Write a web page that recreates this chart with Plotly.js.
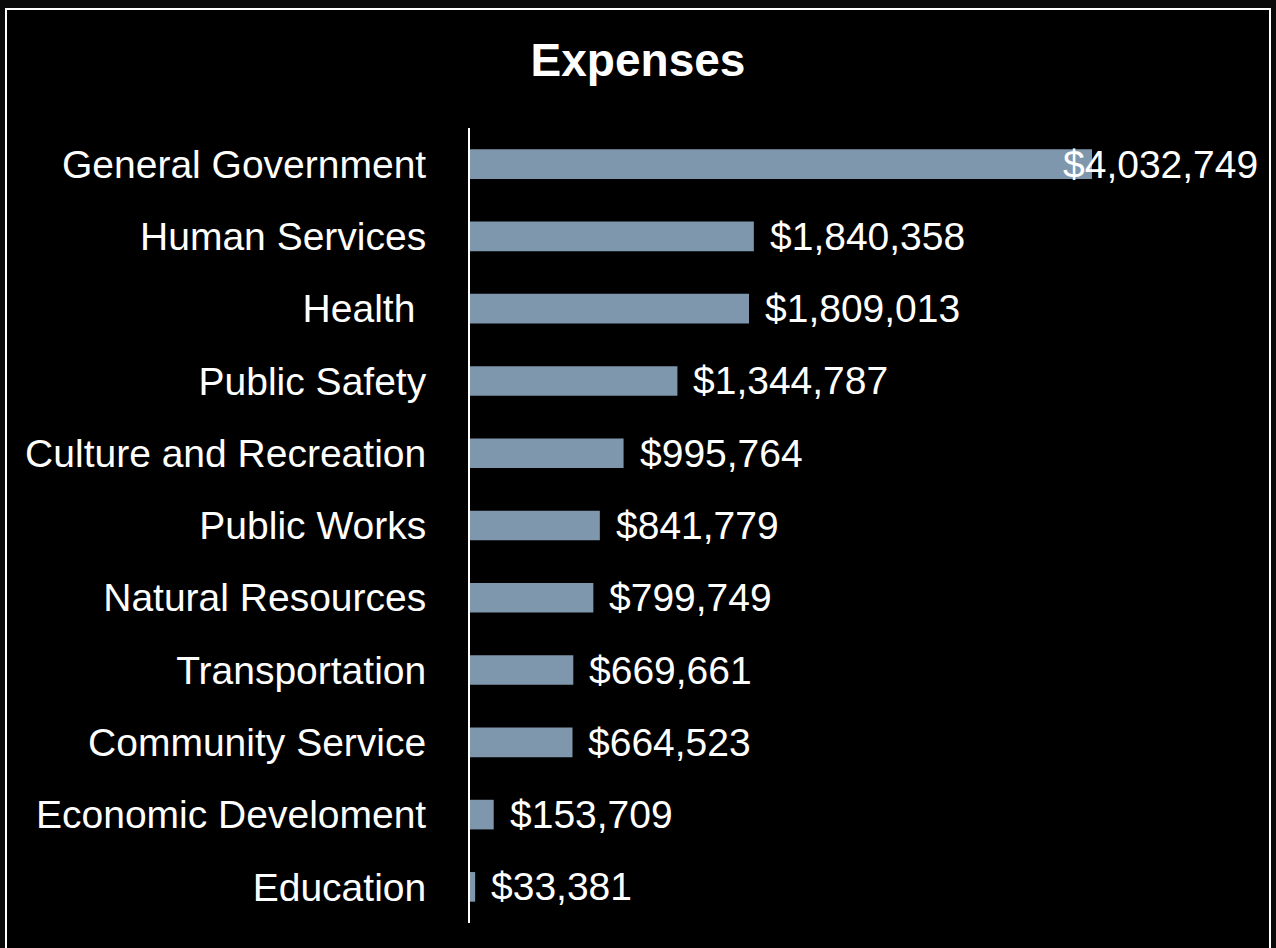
<!DOCTYPE html>
<html>
<head>
<meta charset="utf-8">
<script src="https://cdn.plot.ly/plotly-3.0.1.min.js"></script>
<style>
  html, body { margin: 0; padding: 0; background: #0a0a0a; overflow: hidden; }
  #chart { position: absolute; left: 0; top: 0; width: 1276px; height: 948px; }
  #frame { position: absolute; left: 5px; top: 8px; width: 1262px; height: 960px;
           border: 2px solid #ffffff; outline: 12px solid #0a0a0a; pointer-events: none; }
</style>
</head>
<body>
<div id="chart"></div>
<div id="frame"></div>
<script>
const categories = [
  "General Government", "Human Services", "Health\u00a0", "Public Safety",
  "Culture and Recreation", "Public Works", "Natural Resources", "Transportation",
  "Community Service", "Economic Develoment", "Education"
];
const expenses = [4032749, 1840358, 1809013, 1344787, 995764, 841779, 799749, 669661, 664523, 153709, 33381];
const valueLabels = ["$4,032,749", "$1,840,358", "$1,809,013", "$1,344,787", "$995,764", "$841,779",
                     "$799,749", "$669,661", "$664,523", "$153,709", "$33,381"];

const xMax = 5122000;
const font = "Liberation Sans, Arial, sans-serif";

const annotations = categories.map((c, i) => {
  const overflow = expenses[i] > 0.7 * xMax;
  return {
    x: overflow ? xMax : expenses[i],
    y: c,
    xref: 'x', yref: 'y',
    text: valueLabels[i],
    showarrow: false,
    xanchor: overflow ? 'right' : 'left',
    yanchor: 'middle',
    xshift: overflow ? 0 : 14,
    font: { family: font, size: 39, color: '#ffffff' }
  };
});

const trace = {
  type: 'bar',
  orientation: 'h',
  x: expenses,
  y: categories,
  marker: { color: '#7f97ad', line: { width: 0 } },
  hoverinfo: 'none'
};

const layout = {
  width: 1276, height: 948,
  paper_bgcolor: '#000000',
  plot_bgcolor: '#000000',
  margin: { l: 470, r: 16, t: 128, b: 25 },
  bargap: 0.59,
  showlegend: false,
  title: {
    text: '<b>Expenses</b>',
    x: 0.5, xref: 'container', xanchor: 'center',
    y: 1 - 60 / 948, yref: 'container', yanchor: 'middle',
    font: { family: font, size: 46, color: '#ffffff' }
  },
  xaxis: {
    range: [0, xMax],
    visible: false,
    showgrid: false,
    zeroline: false,
    fixedrange: true
  },
  yaxis: {
    autorange: 'reversed',
    showline: true,
    linecolor: '#ffffff',
    linewidth: 2,
    ticks: '',
    showgrid: false,
    zeroline: false,
    ticklabelstandoff: 34,
    tickfont: { family: font, size: 39, color: '#ffffff' },
    fixedrange: true
  },
  annotations: annotations
};

Plotly.newPlot('chart', [trace], layout, { staticPlot: true, displayModeBar: false });
</script>
</body>
</html>
